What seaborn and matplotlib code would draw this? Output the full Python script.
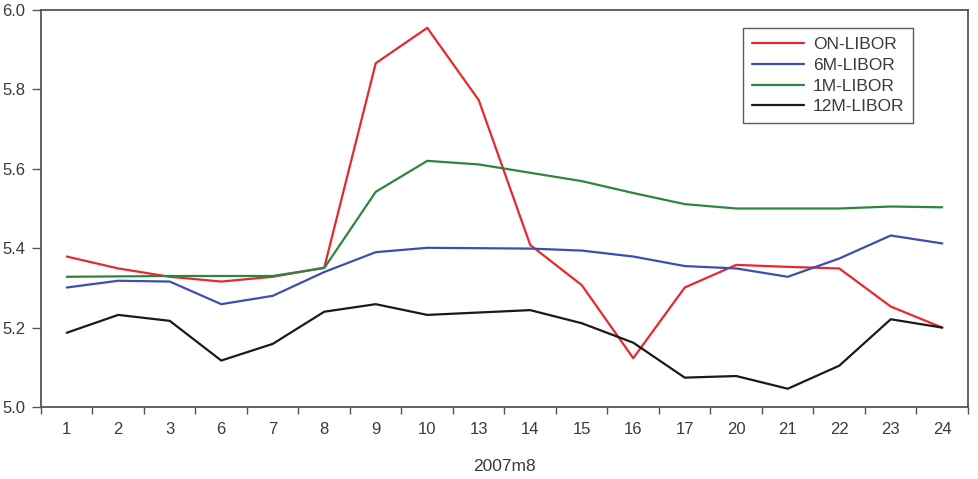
import pandas as pd
import numpy as np
import matplotlib
matplotlib.use('Agg')
import matplotlib.pyplot as plt
import seaborn as sns

# ── Data (Aug 2007 daily LIBOR fixings) ─────────────────────
days = ['1', '2', '3', '6', '7', '8', '9', '10', '13', '14', '15', '16',
        '17', '20', '21', '22', '23', '24']

on_libor = [5.379, 5.349, 5.328, 5.316, 5.328, 5.351, 5.866, 5.955, 5.773,
            5.408, 5.307, 5.123, 5.301, 5.358, 5.353, 5.349, 5.253, 5.200]
m6_libor = [5.301, 5.318, 5.316, 5.259, 5.280, 5.340, 5.390, 5.401, 5.400,
            5.399, 5.394, 5.379, 5.355, 5.349, 5.328, 5.374, 5.432, 5.412]
m1_libor = [5.328, 5.329, 5.330, 5.330, 5.330, 5.350, 5.542, 5.620, 5.611,
            5.590, 5.569, 5.539, 5.511, 5.500, 5.500, 5.500, 5.505, 5.503]
m12_libor = [5.187, 5.232, 5.217, 5.117, 5.159, 5.240, 5.259, 5.232, 5.238,
             5.244, 5.211, 5.162, 5.074, 5.078, 5.046, 5.104, 5.221, 5.200]

series_names = ['ON-LIBOR', '6M-LIBOR', '1M-LIBOR', '12M-LIBOR']
COLORS = ['#e8282d', '#3d4db3', '#2e8540', '#1a1a1a']

# long-form table for seaborn
frames = []
for name, vals in zip(series_names, [on_libor, m6_libor, m1_libor, m12_libor]):
    frames.append(pd.DataFrame({'pos': np.arange(len(days)), 'rate': vals, 'series': name}))
df = pd.concat(frames, ignore_index=True)

# ── Style ────────────────────────────────────────────────────
sns.set_style('white')
plt.rcParams['font.family'] = ['Liberation Sans', 'DejaVu Sans']
TXT = '#3a3a3a'

fig = plt.figure(figsize=(9.79, 4.79), dpi=100)
ax = fig.add_axes([41 / 979, 1 - 407 / 479, (968 - 41) / 979, (407 - 10) / 479])

sns.lineplot(data=df, x='pos', y='rate', hue='series', hue_order=series_names,
             palette=COLORS, linewidth=1.6, ax=ax, sort=False)

ax.set_xlim(-0.5, len(days) - 0.5)
ax.set_ylim(5.0, 6.0)
ax.set_yticks([5.0, 5.2, 5.4, 5.6, 5.8, 6.0])
ax.set_yticklabels(['5.0', '5.2', '5.4', '5.6', '5.8', '6.0'])

# category labels centred, ticks between categories
ax.set_xticks(np.arange(len(days)))
ax.set_xticklabels(days)
ax.set_xticks(np.arange(len(days) + 1) - 0.5, minor=True)
ax.tick_params(axis='x', which='major', length=0, pad=10.5, labelsize=12, colors=TXT)
ax.tick_params(axis='x', which='minor', length=5, width=1.0, direction='out',
               color='#555555', bottom=True)
ax.tick_params(axis='y', which='major', length=6.5, width=1.0, direction='out',
               pad=5, labelsize=12, color='#555555', labelcolor=TXT, left=True)

for s in ax.spines.values():
    s.set_color('#555555')
    s.set_linewidth(1.3)

ax.set_xlabel('2007m8', fontsize=12.5, color=TXT, labelpad=16)
ax.set_ylabel('')

leg = ax.legend(loc='upper right', bbox_to_anchor=(0.9407, 0.9547), frameon=True,
                fancybox=False, fontsize=12.5, handlelength=3.0, borderpad=0.5,
                labelspacing=0.33, handletextpad=0.5, borderaxespad=0)
leg.get_frame().set_edgecolor('#333333')
leg.get_frame().set_linewidth(1.0)
for t in leg.get_texts():
    t.set_color(TXT)

plt.savefig('out.png', dpi=100)
plt.close()
